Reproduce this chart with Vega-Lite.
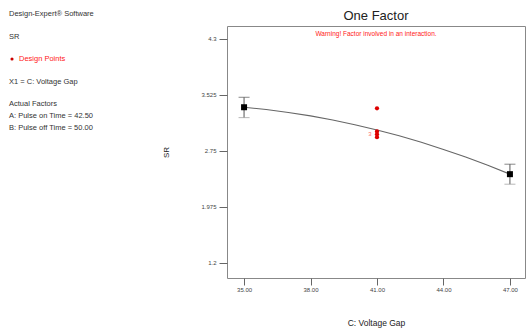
{
  "$schema": "https://vega.github.io/schema/vega-lite/v6.json",
  "background": "white",
  "padding": {"left": 9, "top": 9, "right": 2, "bottom": 6},
  "bounds": "flush",
  "spacing": 68,
  "config": {"font": "Liberation Sans", "view": {"stroke": null}},
  "hconcat": [
    {
      "width": 150,
      "height": 252,
      "layer": [
        {
          "data": {"values": [
            {"label": "Design-Expert® Software", "row": 0, "col": 0, "tone": "black"},
            {"label": "SR", "row": 1, "col": 0, "tone": "black"},
            {"label": "Design Points", "row": 2, "col": 1.0, "tone": "red"},
            {"label": "X1 = C: Voltage Gap", "row": 3, "col": 0, "tone": "black"},
            {"label": "Actual Factors", "row": 4, "col": 0, "tone": "black"},
            {"label": "A: Pulse on Time = 42.50", "row": 4.533, "col": 0, "tone": "black"},
            {"label": "B: Pulse off Time = 50.00", "row": 5.067, "col": 0, "tone": "black"}
          ]},
          "mark": {"type": "text", "align": "left", "baseline": "middle", "fontSize": 7.5},
          "encoding": {
            "x": {"field": "col", "type": "quantitative", "scale": {"domain": [0, 15], "nice": false}, "axis": null},
            "y": {"field": "row", "type": "quantitative", "scale": {"domain": [0.533, 11.733], "reverse": true, "nice": false, "zero": false}, "axis": null},
            "text": {"field": "label"},
            "color": {"field": "tone", "type": "nominal", "scale": {"domain": ["black", "red"], "range": ["#333333", "#ff2020"]}, "legend": null}
          }
        },
        {
          "data": {"values": [{"row": 2, "col": 0.3}]},
          "mark": {"type": "point", "filled": true, "shape": "circle", "size": 10, "color": "#cc0000", "opacity": 1},
          "encoding": {
            "x": {"field": "col", "type": "quantitative"},
            "y": {"field": "row", "type": "quantitative"}
          }
        }
      ]
    },
    {
      "width": 298,
      "height": 252,
      "view": {"stroke": "#888888", "strokeWidth": 1},
      "title": {
        "text": "One Factor",
        "subtitle": "Warning! Factor involved in an interaction.",
        "fontSize": 13,
        "fontWeight": "normal",
        "color": "#222222",
        "subtitleColor": "#ff2020",
        "subtitleFontSize": 6.5,
        "subtitlePadding": 8,
        "offset": -11,
        "anchor": "middle"
      },
      "layer": [
        {
          "data": {"values": [
            {"x": 35, "y": 3.355}, {"x": 36, "y": 3.323}, {"x": 37, "y": 3.283},
            {"x": 38, "y": 3.235}, {"x": 39, "y": 3.178}, {"x": 40, "y": 3.113},
            {"x": 41, "y": 3.04}, {"x": 42, "y": 2.959}, {"x": 43, "y": 2.869},
            {"x": 44, "y": 2.771}, {"x": 45, "y": 2.665}, {"x": 46, "y": 2.551},
            {"x": 47, "y": 2.428}
          ]},
          "mark": {"type": "line", "color": "#666666", "strokeWidth": 1.1},
          "encoding": {
            "x": {
              "field": "x", "type": "quantitative",
              "scale": {"domain": [34.23, 47.68], "nice": false, "zero": false},
              "axis": {
                "values": [35, 38, 41, 44, 47], "format": ".2f", "title": "C: Voltage Gap",
                "grid": false, "domain": false, "tickColor": "#666666", "tickSize": 7,
                "labelFontSize": 6, "labelColor": "#444444", "labelPadding": 1,
                "titlePadding": 26, "titleFontSize": 8.5, "titleFontWeight": "normal", "titleColor": "#222222"
              }
            },
            "y": {
              "field": "y", "type": "quantitative",
              "scale": {"domain": [0.99, 4.48], "nice": false, "zero": false},
              "axis": {
                "values": [1.2, 1.975, 2.75, 3.525, 4.3], "labelExpr": "'' + datum.value", "title": "SR",
                "grid": false, "domain": false, "tickColor": "#666666", "tickSize": 8,
                "labelFontSize": 6, "labelColor": "#444444", "labelPadding": 3,
                "titlePadding": 30, "titleFontSize": 8, "titleFontWeight": "normal", "titleColor": "#222222"
              }
            }
          }
        },
        {
          "data": {"name": "means", "values": [
            {"x": 35, "mean": 3.355, "lo": 3.211, "hi": 3.493},
            {"x": 47, "mean": 2.428, "lo": 2.289, "hi": 2.566}
          ]},
          "layer": [
            {
              "mark": {"type": "rule", "color": "#555555", "strokeWidth": 1},
              "encoding": {
                "x": {"field": "x", "type": "quantitative"},
                "y": {"field": "lo", "type": "quantitative"},
                "y2": {"field": "hi"}
              }
            },
            {
              "mark": {"type": "tick", "orient": "horizontal", "size": 11, "thickness": 1, "color": "#555555"},
              "encoding": {
                "x": {"field": "x", "type": "quantitative"},
                "y": {"field": "hi", "type": "quantitative"}
              }
            },
            {
              "mark": {"type": "tick", "orient": "horizontal", "size": 11, "thickness": 1, "color": "#999999"},
              "encoding": {
                "x": {"field": "x", "type": "quantitative"},
                "y": {"field": "lo", "type": "quantitative"}
              }
            },
            {
              "mark": {"type": "point", "shape": "square", "filled": true, "size": 36, "color": "#000000", "opacity": 1},
              "encoding": {
                "x": {"field": "x", "type": "quantitative"},
                "y": {"field": "mean", "type": "quantitative"}
              }
            }
          ]
        },
        {
          "data": {"values": [
            {"x": 41, "y": 3.34}, {"x": 41, "y": 3.02}, {"x": 41, "y": 2.98}, {"x": 41, "y": 2.94}
          ]},
          "mark": {"type": "point", "shape": "circle", "filled": true, "size": 18, "color": "#dd0000", "opacity": 1},
          "encoding": {
            "x": {"field": "x", "type": "quantitative"},
            "y": {"field": "y", "type": "quantitative"}
          }
        },
        {
          "data": {"values": [{"x": 41, "y": 2.99, "label": "3"}]},
          "mark": {"type": "text", "dx": -7, "fontSize": 6, "color": "#ff7070"},
          "encoding": {
            "x": {"field": "x", "type": "quantitative"},
            "y": {"field": "y", "type": "quantitative"},
            "text": {"field": "label"}
          }
        }
      ]
    }
  ]
}
